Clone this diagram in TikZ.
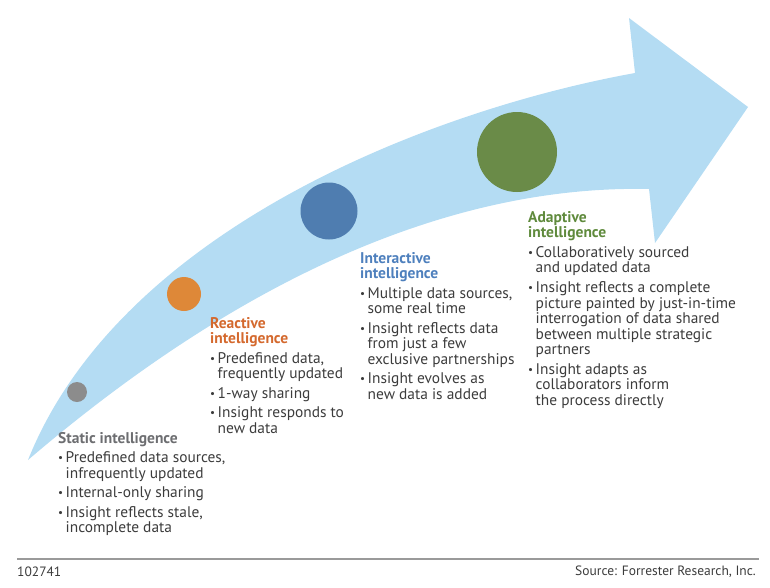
\documentclass[tikz,border=0pt]{standalone}
\usepackage{fontspec}
\usepackage{graphicx}
\setmainfont{PT Sans}
\usetikzlibrary{positioning}
\definecolor{ArrowBlue}{HTML}{B4DCF3}
\definecolor{BodyGrey}{HTML}{3C3C3C}
\definecolor{StaticGrey}{HTML}{6D6E71}
\definecolor{DotGrey}{HTML}{8C8C8C}
\definecolor{ReactiveOrange}{HTML}{D4692E}
\definecolor{DotOrange}{HTML}{DE8838}
\definecolor{InteractiveBlue}{HTML}{4F7DB0}
\definecolor{HeadBlue}{HTML}{4E80BD}
\definecolor{AdaptiveGreen}{HTML}{5F8A3C}
\definecolor{DotGreen}{HTML}{6A8B48}
\definecolor{RuleGrey}{HTML}{9A9A9A}
\newcommand{\itm}{\raisebox{1.2pt}{\scalebox{0.72}{\textbullet}}}

\begin{document}
\begin{tikzpicture}[
    x=1pt,y=-1pt,
    every node/.style={inner sep=0pt},
    heading/.style={anchor=north west,align=left,font=\fontsize{15.5}{15.5}\selectfont\bfseries},
    blurb/.style={anchor=north west,font=\fontsize{15.4}{15.6}\selectfont,text=BodyGrey},
    stagedot/.style={circle,minimum size=#1},
    footer/.style={font=\fontsize{13.5}{14}\selectfont,text=BodyGrey}
]
  \useasboundingbox (0,0) rectangle (770,587);

  % the big curved arrow
  \fill[ArrowBlue] (28,460) .. controls (120,230) and (430,110) .. (635,73)
    -- (629,18) -- (748,107) -- (655,243) -- (649,189)
    .. controls (460,185) and (250,270) .. (28,460) -- cycle;

  \node[stagedot=20pt, fill=DotGrey] (dstatic) at (77,392) {};
  \node[stagedot=34pt, fill=DotOrange] (dreactive) at (184,294) {};
  \node[stagedot=57pt, fill=InteractiveBlue] (dinteractive) at (329,211) {};
  \node[stagedot=80pt, fill=DotGreen] (dadaptive) at (517,152) {};

  % headings
  \node[heading, text=StaticGrey] (static) at (58,432) {Static intelligence};
  \node[heading, text=ReactiveOrange] (reactive) at (210,317) {Reactive\\intelligence};
  \node[heading, text=HeadBlue] (interactive) at (360,252) {Interactive\\intelligence};
  \node[heading, text=AdaptiveGreen] (adaptive) at (528,211) {Adaptive\\intelligence};

  % bullet lists
  \node[blurb, below=5pt of static.south west, anchor=north west] (staticlist) {%
    \begin{tabular}{@{}l@{\hspace{2.5pt}}l@{}}
      \itm & Predefined data sources,\\
           & infrequently updated\\[3.8pt]
      \itm & Internal-only sharing\\[3.8pt]
      \itm & Insight reflects stale,\\
           & incomplete data
    \end{tabular}};
  \node[blurb, below=5pt of reactive.south west, anchor=north west] (reactivelist) {%
    \begin{tabular}{@{}l@{\hspace{2.5pt}}l@{}}
      \itm & Predefined data,\\
           & frequently updated\\[3.8pt]
      \itm & 1-way sharing\\[3.8pt]
      \itm & Insight responds to\\
           & new data
    \end{tabular}};
  \node[blurb, below=5pt of interactive.south west, anchor=north west] (interactivelist) {%
    \begin{tabular}{@{}l@{\hspace{2.5pt}}l@{}}
      \itm & Multiple data sources,\\
           & some real time\\[3.8pt]
      \itm & Insight reflects data\\
           & from just a few\\
           & exclusive partnerships\\[3.8pt]
      \itm & Insight evolves as\\
           & new data is added
    \end{tabular}};
  \node[blurb, below=5pt of adaptive.south west, anchor=north west] (adaptivelist) {%
    \begin{tabular}{@{}l@{\hspace{2.5pt}}l@{}}
      \itm & Collaboratively sourced\\
           & and updated data\\[3.8pt]
      \itm & Insight reflects a complete\\
           & picture painted by just-in-time\\
           & interrogation of data shared\\
           & between multiple strategic\\
           & partners\\[3.8pt]
      \itm & Insight adapts as\\
           & collaborators inform\\
           & the process directly
    \end{tabular}};

  % footer
  \coordinate (ruleleft) at (17,559);
  \coordinate (ruleright) at (759,559);
  \draw[line width=1.8pt, RuleGrey] (ruleleft) -- (ruleright);
  \node[footer, anchor=west] (code) at (17,572) {102741};
  \node[footer, anchor=east] (source) at (756,572) {Source: Forrester Research, Inc.};
\end{tikzpicture}
\end{document}
